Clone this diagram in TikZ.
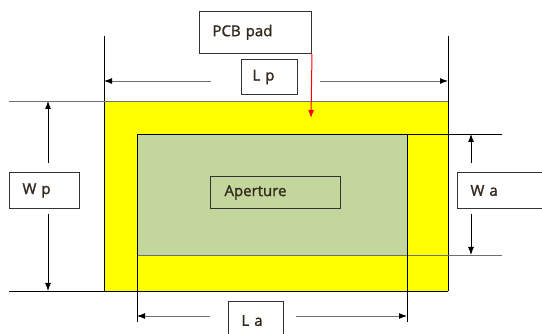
\documentclass[tikz,border=0pt]{standalone}
\usepackage{fontspec}
\setmainfont{Open Sans}
\newfontfamily\lblfont{Open Sans}[FakeBold=1.5]
\usetikzlibrary{arrows.meta}
\definecolor{padyellow}{HTML}{FFFF00}
\definecolor{apgreen}{HTML}{C3D69B}
\definecolor{lbl}{HTML}{33291E}
\definecolor{extgray}{HTML}{707070}
\tikzset{
  lblbox/.style={draw=black!80, line width=1pt, fill=white, inner sep=0pt,
    font=\lblfont\fontsize{15}{18}\selectfont, text=lbl, align=left, anchor=north west},
  dimarrow/.style={-{Latex[length=8pt,width=6pt]}, line width=0.95pt},
  extline/.style={line width=0.95pt},
}
\begin{document}
\begin{tikzpicture}[x=1pt,y=-1pt]
\useasboundingbox (0,0) rectangle (542,334);
\clip (0,0) rectangle (542,334);
% pad and aperture
\fill[padyellow] (104,101) rectangle (448,291);
\fill[apgreen] (137,134) rectangle (407,255);
% extension lines
\draw[extline] (104,36) -- (104,291);
\draw[extline] (448,36) -- (448,291);
\draw[extline, extgray] (9,101) -- (448,101);
\draw[extline] (9,291) -- (448,291);
\draw[extline] (137,134) -- (502,134);
\draw[extline, extgray] (137,255) -- (502,255);
\draw[extline] (137,134) -- (137,322);
\draw[extline] (407,134) -- (407,322);
% label boxes
\node[lblbox, minimum width=112pt, minimum height=42pt, text width=86pt] (pcb) at (199,11) {\raisebox{4pt}{PCB pad}};
\node[lblbox, minimum width=56pt, minimum height=35pt, text width=34pt] (lp) at (241,59) {L p};
\node[lblbox, minimum width=70pt, minimum height=36pt, text width=44pt] (wp) at (9,172) {W p};
\node[lblbox, minimum width=92pt, minimum height=36pt, text width=66pt] (wa) at (457,172) {W a};
\node[lblbox, fill=none, minimum width=130pt, minimum height=32pt, text width=102pt] (ap) at (210,176) {Aperture};
\node[lblbox, minimum width=55pt, minimum height=40pt, text width=29pt] (la) at (228,301) {\raisebox{2pt}{L a}};
% dimension arrow coordinates
\coordinate (lpL0) at (211,81); \coordinate (lpL1) at (104,81);
\coordinate (lpR0) at (320,81); \coordinate (lpR1) at (448,81);
\coordinate (wpU0) at (48,163); \coordinate (wpU1) at (48,101);
\coordinate (wpD0) at (48,214); \coordinate (wpD1) at (48,291);
\coordinate (waU0) at (471,163); \coordinate (waU1) at (471,134);
\coordinate (waD0) at (471,214); \coordinate (waD1) at (471,255);
\coordinate (laL0) at (210,316); \coordinate (laL1) at (137,316);
\coordinate (laR0) at (296,316); \coordinate (laR1) at (407,316);
\coordinate (redtip) at (311,118);
% dimension arrows
\draw[dimarrow, extgray, -{Latex[length=8pt,width=6pt,color=black]}] (lpL0) -- (lpL1);
\draw[dimarrow, extgray, -{Latex[length=8pt,width=6pt,color=black]}] (lpR0) -- (lpR1);
\draw[dimarrow] (wpU0) -- (wpU1);
\draw[dimarrow] (wpD0) -- (wpD1);
\draw[dimarrow] (waU0) -- (waU1);
\draw[dimarrow] (waD0) -- (waD1);
\draw[dimarrow, extgray, -{Latex[length=8pt,width=6pt,color=black]}] (laL0) -- (laL1);
\draw[dimarrow, extgray, -{Latex[length=8pt,width=6pt,color=black]}] (laR0) -- (laR1);
% red pointer
\draw[-{Latex[length=8pt,width=6pt]}, red, line width=1pt] (pcb.south east) -- (redtip);
\end{tikzpicture}
\end{document}
